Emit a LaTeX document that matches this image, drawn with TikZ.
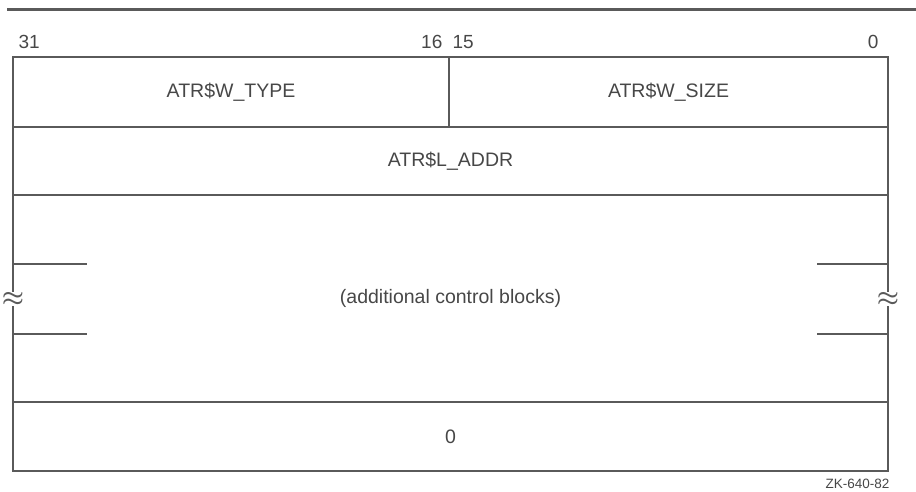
\documentclass[tikz,border=0pt]{standalone}
\usepackage{fontspec}
\setmainfont{Liberation Sans}
\usetikzlibrary{positioning}
\definecolor{framegray}{HTML}{5A5A5A}
\definecolor{textgray}{HTML}{474747}

\begin{document}
\begin{tikzpicture}[x=1pt, y=-1pt, line width=1.3pt, framegray]
\tikzstyle{field}=[draw=framegray, inner sep=0pt, outer sep=0pt, text=textgray, font=\fontsize{19.5}{21}\selectfont]
\tikzstyle{bitno}=[inner sep=0pt, text=textgray, font=\fontsize{19}{21}\selectfont]
\tikzstyle{wave}=[inner sep=0pt, text=framegray, font=\fontsize{30}{30}\selectfont\boldmath]

\useasboundingbox (0,0) rectangle (916,492);

\coordinate (ruleL) at (7,10);
\coordinate (ruleR) at (916,10);
\draw[line width=3pt] (ruleL) -- (ruleR);

\node[bitno, anchor=base west]  (b31) at (18,49)  {31};
\node[bitno, anchor=base east]  (b16) at (443,49) {16};
\node[bitno, anchor=base west]  (b15) at (452,49) {15};
\node[bitno, anchor=base east]  (b0)  at (879,49) {0};

\node[field, minimum width=436pt, minimum height=70pt, anchor=north west] (type) at (13,57) {ATR\$W\_TYPE};
\node[field, minimum width=439pt, minimum height=70pt, right=0pt of type] (size) {ATR\$W\_SIZE};
\node[field, minimum width=875pt, minimum height=68pt, below right=0pt and 0pt of type.south west] (addr) {ATR\$L\_ADDR};
\node[field, draw=none, minimum width=875pt, minimum height=207pt, below right=0pt and 0pt of addr.south west] (blocks) {(additional control blocks)};
\node[field, minimum width=875pt, minimum height=69pt, below right=0pt and 0pt of blocks.south west] (zero) {0};

\node[wave] (lwave) at (13,299) {$\approx$};
\node[wave] (rwave) at (888,299) {$\approx$};
\draw (blocks.north west) -- (lwave.north);
\draw (lwave.south) -- (blocks.south west);
\draw (blocks.north east) -- (rwave.north);
\draw (rwave.south) -- (blocks.south east);

\coordinate (lstubA) at (87,264);
\coordinate (lstubB) at (87,334);
\coordinate (rstubA) at (817,264);
\coordinate (rstubB) at (817,334);
\draw (lstubA -| blocks.west) -- (lstubA);
\draw (lstubB -| blocks.west) -- (lstubB);
\draw (rstubA -| blocks.east) -- (rstubA);
\draw (rstubB -| blocks.east) -- (rstubB);

\node[inner sep=0pt, anchor=north east, text=textgray, font=\fontsize{13.5}{14}\selectfont] (tag) at (890,478) {ZK-640-82};
\end{tikzpicture}
\end{document}
